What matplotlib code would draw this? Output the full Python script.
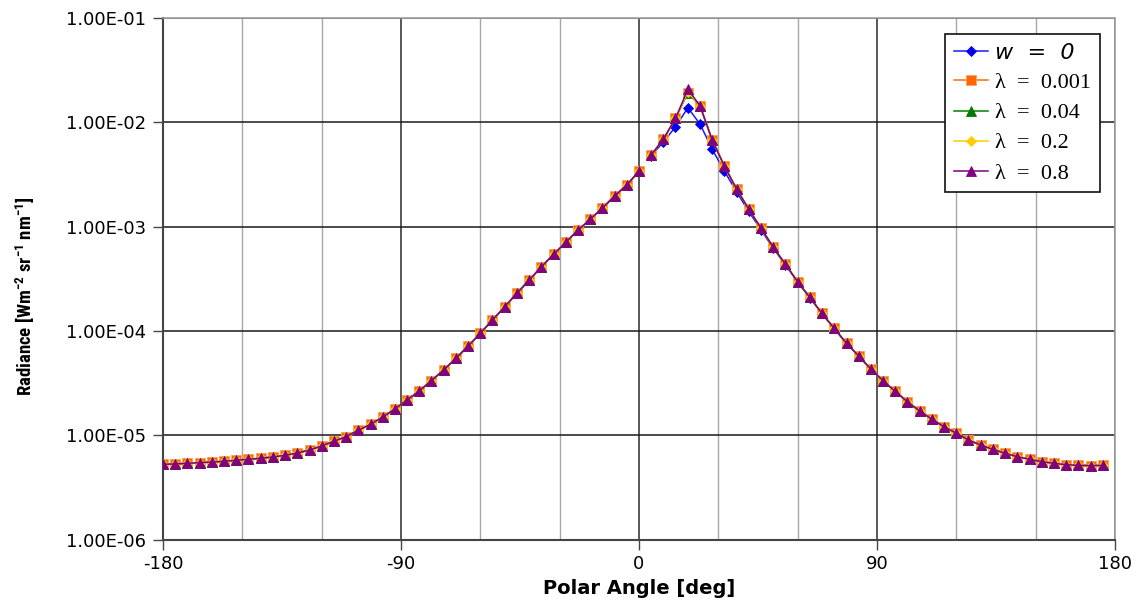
import numpy as np
import matplotlib
matplotlib.use("Agg")
import matplotlib.pyplot as plt
from matplotlib.ticker import FixedLocator, NullFormatter

plt.rcParams["mathtext.fontset"] = "custom"
plt.rcParams["mathtext.rm"] = "Roboto Condensed"
plt.rcParams["mathtext.bf"] = "Roboto Condensed:bold"

# Polar angles of the computed radiance samples [deg]
polar_angle = [
    -180.0, -175.4, -170.8, -166.2, -161.5, -156.9, -152.3, -147.7, -143.1, -138.5,
    -133.8, -129.2, -124.6, -120.0, -115.4, -110.8, -106.2, -101.5, -96.9, -92.3,
    -87.7, -83.1, -78.5, -73.8, -69.2, -64.6, -60.0, -55.4, -50.8, -46.2,
    -41.5, -36.9, -32.3, -27.7, -23.1, -18.5, -13.8, -9.2, -4.6, 0.0,
    4.6, 9.2, 13.8, 18.5, 23.1, 27.7, 32.3, 36.9, 41.5, 46.2,
    50.8, 55.4, 60.0, 64.6, 69.2, 73.8, 78.5, 83.1, 87.7, 92.3,
    96.9, 101.5, 106.2, 110.8, 115.4, 120.0, 124.6, 129.2, 133.8, 138.5,
    143.1, 147.7, 152.3, 156.9, 161.5, 166.2, 170.8, 175.4,
]

# Radiance [W m-2 sr-1 nm-1] for each case
radiance_w0 = [
    5.28e-6, 5.32e-6, 5.40e-6, 5.47e-6, 5.55e-6, 5.64e-6, 5.77e-6, 5.90e-6, 6.03e-6, 6.20e-6,
    6.44e-6, 6.77e-6, 7.24e-6, 7.91e-6, 8.77e-6, 9.70e-6, 1.118e-5, 1.276e-5, 1.50e-5, 1.79e-5,
    2.18e-5, 2.66e-5, 3.34e-5, 4.26e-5, 5.47e-5, 7.18e-5, 9.51e-5, 1.274e-4, 1.709e-4, 2.30e-4,
    3.08e-4, 4.13e-4, 5.43e-4, 7.08e-4, 9.23e-4, 1.176e-3, 1.51e-3, 1.97e-3, 2.51e-3, 3.41e-3,
    4.80e-3, 6.45e-3, 9.07e-3, 1.38e-2, 9.63e-3, 5.51e-3, 3.41e-3, 2.16e-3, 1.40e-3, 9.30e-4,
    6.20e-4, 4.30e-4, 2.95e-4, 2.09e-4, 1.475e-4, 1.06e-4, 7.62e-5, 5.76e-5, 4.32e-5, 3.35e-5,
    2.64e-5, 2.10e-5, 1.71e-5, 1.425e-5, 1.21e-5, 1.046e-5, 9.03e-6, 8.08e-6, 7.35e-6, 6.73e-6,
    6.24e-6, 5.90e-6, 5.59e-6, 5.40e-6, 5.23e-6, 5.16e-6, 5.12e-6, 5.16e-6,
]
radiance_l0001 = [
    5.28e-6, 5.32e-6, 5.40e-6, 5.47e-6, 5.55e-6, 5.64e-6, 5.77e-6, 5.90e-6, 6.03e-6, 6.20e-6,
    6.44e-6, 6.77e-6, 7.24e-6, 7.91e-6, 8.77e-6, 9.70e-6, 1.118e-5, 1.276e-5, 1.50e-5, 1.79e-5,
    2.18e-5, 2.66e-5, 3.34e-5, 4.26e-5, 5.47e-5, 7.18e-5, 9.51e-5, 1.274e-4, 1.709e-4, 2.30e-4,
    3.08e-4, 4.13e-4, 5.43e-4, 7.08e-4, 9.23e-4, 1.176e-3, 1.51e-3, 1.97e-3, 2.51e-3, 3.41e-3,
    4.86e-3, 6.87e-3, 1.09e-2, 1.93e-2, 1.44e-2, 6.77e-3, 3.81e-3, 2.30e-3, 1.476e-3, 9.64e-4,
    6.34e-4, 4.36e-4, 2.97e-4, 2.10e-4, 1.478e-4, 1.061e-4, 7.62e-5, 5.76e-5, 4.32e-5, 3.35e-5,
    2.64e-5, 2.10e-5, 1.71e-5, 1.425e-5, 1.21e-5, 1.046e-5, 9.03e-6, 8.08e-6, 7.35e-6, 6.73e-6,
    6.24e-6, 5.90e-6, 5.59e-6, 5.40e-6, 5.23e-6, 5.16e-6, 5.12e-6, 5.16e-6,
]
radiance_l004 = [
    5.28e-6, 5.32e-6, 5.40e-6, 5.47e-6, 5.55e-6, 5.64e-6, 5.77e-6, 5.90e-6, 6.03e-6, 6.20e-6,
    6.44e-6, 6.77e-6, 7.24e-6, 7.91e-6, 8.77e-6, 9.70e-6, 1.118e-5, 1.276e-5, 1.50e-5, 1.79e-5,
    2.18e-5, 2.66e-5, 3.34e-5, 4.26e-5, 5.47e-5, 7.18e-5, 9.51e-5, 1.274e-4, 1.709e-4, 2.30e-4,
    3.08e-4, 4.13e-4, 5.43e-4, 7.08e-4, 9.23e-4, 1.176e-3, 1.51e-3, 1.97e-3, 2.51e-3, 3.41e-3,
    4.86e-3, 6.87e-3, 1.09e-2, 1.92e-2, 1.44e-2, 6.77e-3, 3.81e-3, 2.30e-3, 1.476e-3, 9.64e-4,
    6.34e-4, 4.36e-4, 2.97e-4, 2.10e-4, 1.478e-4, 1.061e-4, 7.62e-5, 5.76e-5, 4.32e-5, 3.35e-5,
    2.64e-5, 2.10e-5, 1.71e-5, 1.425e-5, 1.21e-5, 1.046e-5, 9.03e-6, 8.08e-6, 7.35e-6, 6.73e-6,
    6.24e-6, 5.90e-6, 5.59e-6, 5.40e-6, 5.23e-6, 5.16e-6, 5.12e-6, 5.16e-6,
]
radiance_l02 = [
    5.28e-6, 5.32e-6, 5.40e-6, 5.47e-6, 5.55e-6, 5.64e-6, 5.77e-6, 5.90e-6, 6.03e-6, 6.20e-6,
    6.44e-6, 6.77e-6, 7.24e-6, 7.91e-6, 8.77e-6, 9.70e-6, 1.118e-5, 1.276e-5, 1.50e-5, 1.79e-5,
    2.18e-5, 2.66e-5, 3.34e-5, 4.26e-5, 5.47e-5, 7.18e-5, 9.51e-5, 1.274e-4, 1.709e-4, 2.30e-4,
    3.08e-4, 4.13e-4, 5.43e-4, 7.08e-4, 9.23e-4, 1.176e-3, 1.51e-3, 1.97e-3, 2.51e-3, 3.41e-3,
    4.86e-3, 6.87e-3, 1.09e-2, 1.95e-2, 1.44e-2, 6.77e-3, 3.81e-3, 2.30e-3, 1.476e-3, 9.64e-4,
    6.34e-4, 4.36e-4, 2.97e-4, 2.10e-4, 1.478e-4, 1.061e-4, 7.62e-5, 5.76e-5, 4.32e-5, 3.35e-5,
    2.64e-5, 2.10e-5, 1.71e-5, 1.425e-5, 1.21e-5, 1.046e-5, 9.03e-6, 8.08e-6, 7.35e-6, 6.73e-6,
    6.24e-6, 5.90e-6, 5.59e-6, 5.40e-6, 5.23e-6, 5.16e-6, 5.12e-6, 5.16e-6,
]
radiance_l08 = [
    5.28e-6, 5.32e-6, 5.40e-6, 5.47e-6, 5.55e-6, 5.64e-6, 5.77e-6, 5.90e-6, 6.03e-6, 6.20e-6,
    6.44e-6, 6.77e-6, 7.24e-6, 7.91e-6, 8.77e-6, 9.70e-6, 1.118e-5, 1.276e-5, 1.50e-5, 1.79e-5,
    2.18e-5, 2.66e-5, 3.34e-5, 4.26e-5, 5.47e-5, 7.18e-5, 9.51e-5, 1.274e-4, 1.709e-4, 2.30e-4,
    3.08e-4, 4.13e-4, 5.43e-4, 7.08e-4, 9.23e-4, 1.176e-3, 1.51e-3, 1.97e-3, 2.51e-3, 3.41e-3,
    4.86e-3, 6.87e-3, 1.09e-2, 2.07e-2, 1.44e-2, 6.77e-3, 3.81e-3, 2.30e-3, 1.476e-3, 9.64e-4,
    6.34e-4, 4.36e-4, 2.97e-4, 2.10e-4, 1.478e-4, 1.061e-4, 7.62e-5, 5.76e-5, 4.32e-5, 3.35e-5,
    2.64e-5, 2.10e-5, 1.71e-5, 1.425e-5, 1.21e-5, 1.046e-5, 9.03e-6, 8.08e-6, 7.35e-6, 6.73e-6,
    6.24e-6, 5.90e-6, 5.59e-6, 5.40e-6, 5.23e-6, 5.16e-6, 5.12e-6, 5.16e-6,
]

series_labels = ["w  =  0", "λ  =  0.001", "λ  =  0.04", "λ  =  0.2", "λ  =  0.8"]
x_ticks = [-180, -90, 0, 90, 180]
x_minor = [-150, -120, -60, -30, 30, 60, 120, 150]
y_ticks = [1e-6, 1e-5, 1e-4, 1e-3, 1e-2, 1e-1]
y_ticklabels = ["1.00E-06", "1.00E-05", "1.00E-04", "1.00E-03", "1.00E-02", "1.00E-01"]

styles = [
    dict(color="#1a1aff", marker="D", ms=5.2, mfc="#0000ee", mec="#0000ee"),
    dict(color="#ff6a10", marker="s", ms=6.6, mfc="#ff6600", mec="#ffa060"),
    dict(color="#008000", marker="^", ms=6.8, mfc="#007a00", mec="#007a00"),
    dict(color="#ffcc00", marker="D", ms=5.4, mfc="#ffcc00", mec="#ffcc00"),
    dict(color="#800080", marker="^", ms=7.8, mfc="#800080", mec="#800080"),
]

fig = plt.figure(figsize=(11.40, 6.01), dpi=100)
ax = fig.add_axes([0.1430, 0.1020, 0.8350, 0.8680])

angles = np.asarray(polar_angle)
# the solution is computed separately on each side of the normal
neg = angles <= 0
pos = angles > 0

all_series = [radiance_w0, radiance_l0001, radiance_l004, radiance_l02, radiance_l08]
handles = []
for values, st, lab in zip(all_series, styles, series_labels):
    v = np.asarray(values)
    kw = dict(color=st["color"], lw=1.1, marker=st["marker"], ms=st["ms"],
              mfc=st["mfc"], mec=st["mec"], mew=0.6, zorder=3)
    h, = ax.plot(angles[neg], v[neg], label=lab, **kw)
    ax.plot(angles[pos], v[pos], **kw)
    handles.append(h)

ax.set_yscale("log")
ax.set_xlim(-180, 180)
ax.set_ylim(1e-6, 1e-1)

ax.xaxis.set_major_locator(FixedLocator(x_ticks))
ax.xaxis.set_minor_locator(FixedLocator(x_minor))
ax.xaxis.set_minor_formatter(NullFormatter())
ax.set_xticklabels([str(t) for t in x_ticks])
ax.yaxis.set_major_locator(FixedLocator(y_ticks))
ax.yaxis.set_minor_locator(FixedLocator([]))
ax.set_yticklabels(y_ticklabels)

for lbl in ax.get_xticklabels() + ax.get_yticklabels():
    lbl.set_fontfamily("DejaVu Sans")
    lbl.set_fontsize(13)

ax.tick_params(axis="both", which="major", direction="out", length=7, width=1.0,
               color="#444444", pad=4)
ax.tick_params(axis="y", which="major", pad=5)
ax.tick_params(axis="x", which="minor", length=0)

# grid: dark at decades and every 90 deg, lighter every 30 deg
ax.grid(True, axis="y", which="major", color="#1a1a1a", lw=1.1, zorder=1)
ax.grid(True, axis="x", which="major", color="#2a2a2a", lw=1.1, zorder=1)
ax.grid(True, axis="x", which="minor", color="#a8a8a8", lw=1.0, zorder=1)
ax.set_axisbelow(True)

for side in ("left", "bottom"):
    ax.spines[side].set_color("#444444")
    ax.spines[side].set_linewidth(1.5)
for side in ("top", "right"):
    ax.spines[side].set_color("#a0a0a0")
    ax.spines[side].set_linewidth(1.2)

ax.set_xlabel("Polar Angle [deg]", fontfamily="DejaVu Sans", fontweight="bold",
              fontsize=14, labelpad=4)
ax.set_ylabel(r"Radiance [Wm$^{\mathbf{-2}}$ sr$^{\mathbf{-1}}$ nm$^{\mathbf{-1}}$]",
              fontfamily="Roboto Condensed", fontweight="bold", fontsize=13.5)
ax.yaxis.set_label_coords(-0.132, 0.467)

leg = ax.legend(handles=handles, loc="upper right", bbox_to_anchor=(0.984, 0.969),
                borderaxespad=0.0, frameon=True, fancybox=False, framealpha=1.0,
                edgecolor="#111111", fontsize=16, handlelength=1.55, handletextpad=0.3,
                labelspacing=0.43, borderpad=0.4)
leg.get_frame().set_linewidth(1.2)
texts = leg.get_texts()
texts[0].set_fontfamily("DejaVu Sans")
texts[0].set_fontstyle("italic")
for t in texts[1:]:
    t.set_fontfamily("Liberation Serif")

fig.savefig("out.png", dpi=100)
